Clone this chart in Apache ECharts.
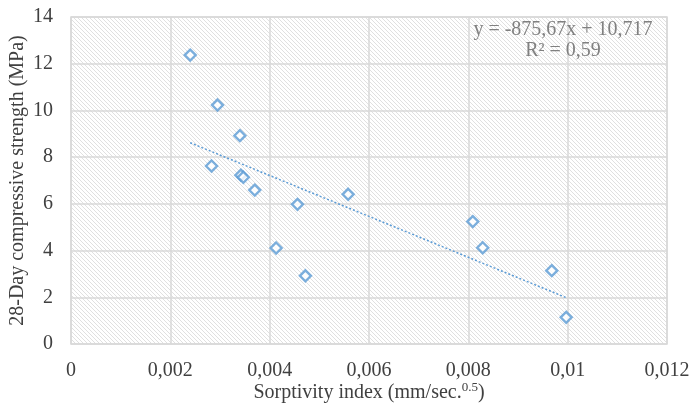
<!DOCTYPE html>
<html>
<head>
<meta charset="utf-8">
<script src="https://cdn.jsdelivr.net/npm/echarts@6/dist/echarts.min.js"></script>
<style>
  html, body { margin: 0; padding: 0; background: #fff; }
  #chart { width: 691px; height: 407px; }
</style>
</head>
<body>
<div id="chart"></div>
<script>
// Sorptivity index (mm/sec^0.5) vs 28-day compressive strength (MPa)
const sorptivity = [0.00240, 0.00295, 0.00340, 0.00283, 0.00342, 0.00347, 0.00370, 0.00456, 0.00558, 0.00413, 0.00472, 0.00809, 0.00829, 0.00968, 0.00997];
const strength   = [12.37, 10.23, 8.92, 7.62, 7.23, 7.14, 6.59, 5.98, 6.41, 4.11, 2.92, 5.24, 4.12, 3.14, 1.14];

// Linear trend reported on the chart
const trendSlope = -875.67;
const trendIntercept = 10.717;
const trendR2 = 0.59;

const xTicks = { min: 0, max: 0.012, step: 0.002 };
const yTicks = { min: 0, max: 14, step: 2 };

const points = sorptivity.map((x, i) => [x, strength[i]]);
const xLo = Math.min(...sorptivity), xHi = Math.max(...sorptivity);
const trend = [[xLo, trendSlope * xLo + trendIntercept], [xHi, trendSlope * xHi + trendIntercept]];

const fmtComma = (n) => String(n).replace('.', ',');

// diagonal hatch fill for the plot area
function hatchPattern() {
  const s = 4;
  const c = document.createElement('canvas');
  c.width = s; c.height = s;
  const g = c.getContext('2d');
  g.fillStyle = '#ffffff';
  g.fillRect(0, 0, s, s);
  g.strokeStyle = '#e0e0e0';
  g.lineWidth = 1;
  g.beginPath();
  g.moveTo(-1, -1); g.lineTo(s + 1, s + 1);
  g.moveTo(-1, s - 1); g.lineTo(1, s + 1);
  g.moveTo(s - 1, -1); g.lineTo(s + 1, 1);
  g.stroke();
  return { image: c, repeat: 'repeat' };
}

const serif = '"Liberation Serif", "Times New Roman", serif';
const chart = echarts.init(document.getElementById('chart'), null, { renderer: 'canvas' });

chart.setOption({
  animation: false,
  backgroundColor: '#ffffff',
  grid: {
    left: 71, right: 24, top: 17, bottom: 63,
    outerBoundsMode: 'none',
    containLabel: false,
    show: true,
    backgroundColor: hatchPattern(),
    borderColor: '#d9d9d9',
    borderWidth: 1.5
  },
  xAxis: {
    type: 'value',
    min: xTicks.min, max: xTicks.max, interval: xTicks.step,
    axisLine: { show: false },
    axisTick: { show: false },
    splitLine: { show: true, lineStyle: { color: '#d9d9d9', width: 1.5 } },
    axisLabel: {
      margin: 17,
      color: '#404040',
      fontFamily: serif,
      fontSize: 20,
      formatter: (v) => fmtComma(+v.toFixed(4))
    },
    name: '{t|Sorptivity index (mm/sec.}{s|0.5}{t|)}',
    nameLocation: 'middle',
    nameMoveOverlap: false,
    nameGap: 37,
    nameTextStyle: {
      rich: {
        t: { fontFamily: serif, fontSize: 20, color: '#404040' },
        s: { fontFamily: serif, fontSize: 13, color: '#404040', padding: [0, 0, 10, 0] }
      }
    }
  },
  yAxis: {
    type: 'value',
    min: yTicks.min, max: yTicks.max, interval: yTicks.step,
    axisLine: { show: false },
    axisTick: { show: false },
    splitLine: { show: true, lineStyle: { color: '#d9d9d9', width: 1.5 } },
    axisLabel: {
      margin: 18,
      color: '#404040',
      fontFamily: serif,
      fontSize: 20,
      formatter: (v) => fmtComma(v)
    },
    name: '28-Day compressive strength (MPa)',
    nameLocation: 'middle',
    nameMoveOverlap: false,
    nameGap: 43,
    nameTextStyle: { fontFamily: serif, fontSize: 20, color: '#404040' }
  },
  series: [
    {
      type: 'line',
      data: trend,
      symbol: 'none',
      silent: true,
      lineStyle: { color: '#5b9bd5', width: 1.5, type: [2, 2] },
      z: 2
    },
    {
      type: 'scatter',
      data: points,
      symbol: 'diamond',
      symbolSize: 11,
      itemStyle: { color: '#ffffff', borderColor: '#5b9bd5', borderWidth: 2.4 },
      z: 3
    }
  ],
  graphic: [
    {
      type: 'text',
      x: 563, y: 30,
      style: {
        text: 'y = ' + fmtComma(trendSlope) + 'x + ' + fmtComma(trendIntercept),
        fill: '#808080', font: '20px ' + serif,
        align: 'center', verticalAlign: 'middle'
      },
      z: 10
    },
    {
      type: 'text',
      x: 563, y: 51,
      style: {
        text: 'R² = ' + fmtComma(trendR2),
        fill: '#808080', font: '20px ' + serif,
        align: 'center', verticalAlign: 'middle'
      },
      z: 10
    }
  ]
});
</script>
</body>
</html>
